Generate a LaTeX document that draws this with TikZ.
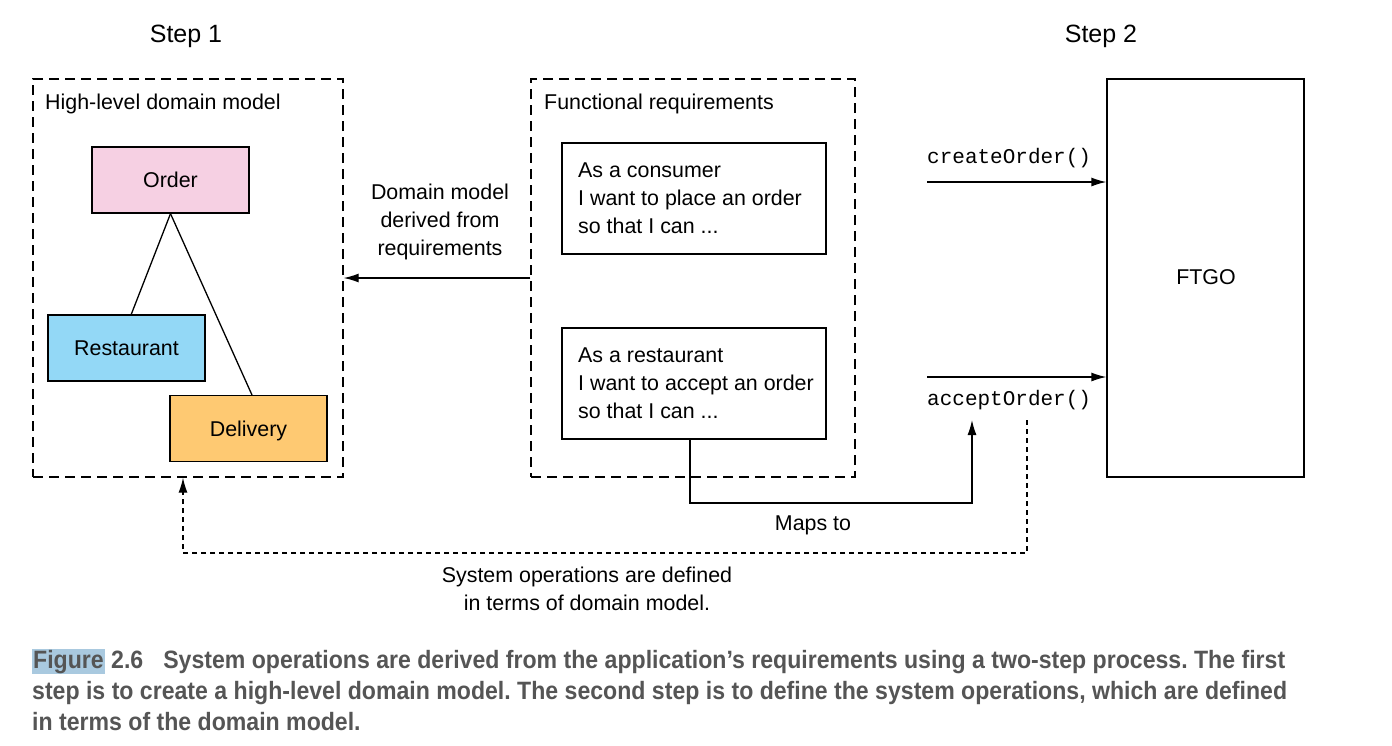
\documentclass[tikz,border=0pt]{standalone}
\usepackage{fontspec}
\setmainfont{Liberation Sans}
\setmonofont{Liberation Mono}
\newfontfamily\capfont[FakeStretch=0.92]{Liberation Sans}
\usetikzlibrary{arrows.meta}
\definecolor{orderpink}{HTML}{F6D0E3}
\definecolor{restblue}{HTML}{93D8F6}
\definecolor{delivorange}{HTML}{FEC972}
\definecolor{capgray}{HTML}{555555}
\definecolor{figblue}{HTML}{A9C9DF}
\frenchspacing
\tikzset{
  lbl/.style={font=\fontsize{21.4}{28}\selectfont, inner sep=0pt},
  steplbl/.style={font=\fontsize{25}{30}\selectfont, inner sep=0pt},
  monolbl/.style={font=\ttfamily\fontsize{21}{26}\selectfont, inner sep=0pt, anchor=base west},
  region/.style={draw, line width=1.3pt, dash pattern=on 10pt off 6pt, inner sep=0pt},
  entity/.style={draw, line width=1.3pt, minimum width=157, minimum height=66, inner sep=0pt, font=\fontsize{21.4}{26}\selectfont},
  story/.style={draw, line width=1.3pt, minimum width=264, minimum height=111, inner sep=0pt},
  conn/.style={line width=1.3pt},
  arr/.style={line width=1.3pt, -{Latex[length=15pt,width=9pt]}},
  dotarr/.style={line width=1.3pt, dash pattern=on 5pt off 4pt, -{Latex[length=15pt,width=9pt]}},
  caption/.style={font=\capfont\bfseries\fontsize{25.1}{31}\selectfont, text=capgray, anchor=base west, inner sep=0pt}
}
\begin{document}
\begin{tikzpicture}[x=1pt,y=-1pt]
\useasboundingbox (0,0) rectangle (1392,745);
% step titles
\node[steplbl] (step1) at (186,36) {Step 1};
\node[steplbl] (step2) at (1101,36) {Step 2};
% left region
\node[region, minimum width=310, minimum height=398] (hl) at (188,278) {};
\node[lbl, anchor=base west] (hltitle) at (45,109) {High-level domain model};
\node[entity, fill=orderpink] (order) at (170.5,180) {Order};
\node[entity, fill=restblue] (rest) at (126.5,348) {Restaurant};
\node[entity, fill=delivorange] (deliv) at (248.5,428.5) {};
\node[lbl] (delivt) at (248.5,430.5) {Delivery};
\draw[conn] (order.south) -- (131,315);
\draw[conn] (order.south) -- (252,395);
% middle region
\node[region, minimum width=324, minimum height=398] (func) at (693,278) {};
\node[lbl, anchor=base west] (functitle) at (544,109) {Functional requirements};
\node[story] (req1) at (694,198.5) {};
\node[lbl, anchor=base west] (req1t) at (578,177) {As a consumer};
\node[lbl, anchor=base west] (req1u) at (578,205) {I want to place an order};
\node[lbl, anchor=base west] (req1v) at (578,233) {so that I can ...};
\node[story] (req2) at (694,383.5) {};
\node[lbl, anchor=base west] (req2t) at (578,362) {As a restaurant};
\node[lbl, anchor=base west] (req2u) at (578,390) {I want to accept an order};
\node[lbl, anchor=base west] (req2v) at (578,418) {so that I can ...};
% derived arrow
\draw[arr] (func.west) -- (hl.east);
\node[lbl, align=center] (derived) at (440,222) {Domain model\\derived from\\requirements};
% FTGO
\node[draw, line width=1.3pt, minimum width=197, minimum height=398, inner sep=0pt] (ftgo) at (1205.5,278) {};
\node[lbl] (ftgot) at (1206,277) {FTGO};
% system operations
\node[monolbl] (create) at (927,163) {createOrder()};
\coordinate (c1) at (927,182);
\draw[arr] (c1) -- (c1 -| ftgo.west);
\coordinate (c2) at (927,377);
\draw[arr] (c2) -- (c2 -| ftgo.west);
\node[monolbl] (accept) at (927,405) {acceptOrder()};
% maps to
\coordinate (mapend) at (972,420);
\draw[arr] (req2.south -| 690,0) -- (690,503) -- (972,503) -- (mapend);
\node[lbl] (maps) at (813,525) {Maps to};
% defined in terms of
\coordinate (dstart) at (1027,420);
\draw[dotarr] (dstart) -- (1027,553) -- (183,553) -- (hl.south -| 183,0);
\node[lbl, align=center] (sysops) at (587,589) {System operations are defined\\in terms of domain model.};
% caption
\node[caption] (cap1) at (32,668) {{\setlength\fboxsep{1pt}\colorbox{figblue}{Figure}} 2.6\hspace{20pt}System operations are derived from the application’s requirements using a two-step process. The first};
\node[caption] (cap2) at (32,699) {step is to create a high-level domain model. The second step is to define the system operations, which are defined};
\node[caption] (cap3) at (32,730) {in terms of the domain model.};
\end{tikzpicture}
\end{document}
